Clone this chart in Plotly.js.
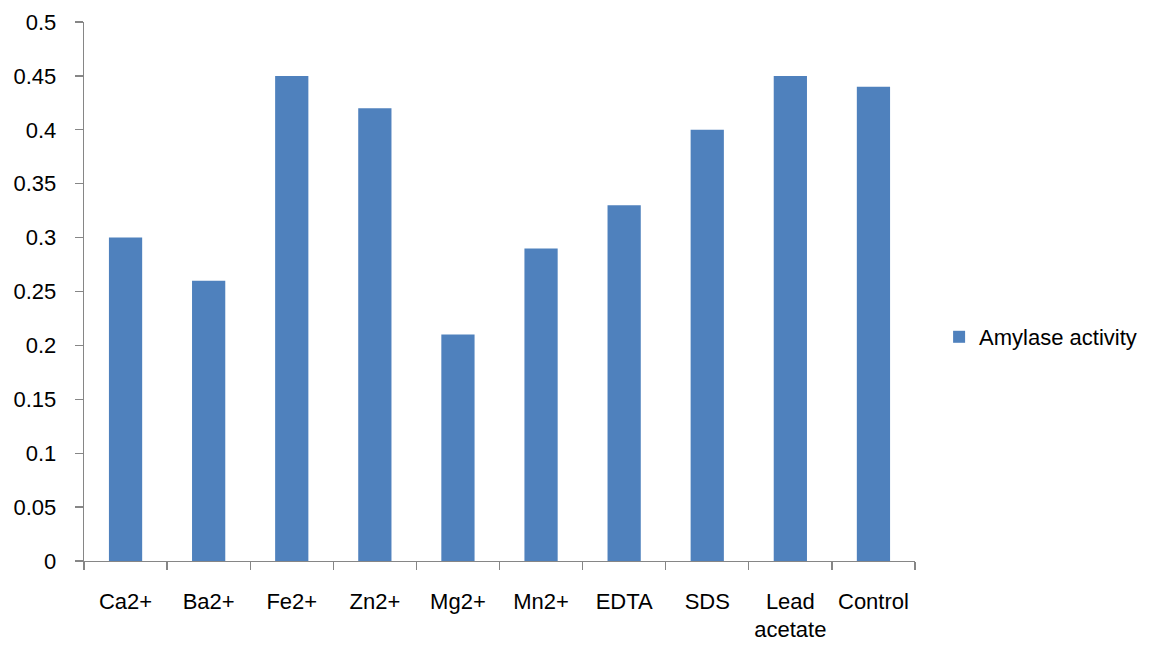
<!DOCTYPE html>
<html>
<head>
<meta charset="utf-8">
<script src="https://cdn.plot.ly/plotly-3.0.1.min.js"></script>
<style>html,body{margin:0;padding:0;background:#fff;}#chart{width:1159px;height:652px;}</style>
</head>
<body>
<div id="chart"></div>
<script>
const categories = ["Ca2+", "Ba2+", "Fe2+", "Zn2+", "Mg2+", "Mn2+", "EDTA", "SDS", "Lead<br>acetate", "Control"];
const amylaseActivity = [0.30, 0.26, 0.45, 0.42, 0.21, 0.29, 0.33, 0.40, 0.45, 0.44];
const seriesName = "Amylase activity";
const yTickVals = [0, 0.05, 0.1, 0.15, 0.2, 0.25, 0.3, 0.35, 0.4, 0.45, 0.5];

const trace = {
  type: "bar",
  x: categories,
  y: amylaseActivity,
  name: seriesName,
  marker: {color: "#4F81BD"},
  showlegend: true,
  hoverinfo: "none"
};

const fontFam = "Liberation Sans, Arial, sans-serif";
const fs = 22;
const layout = {
  width: 1159, height: 652,
  margin: {l: 84, r: 244, t: 22, b: 91},
  paper_bgcolor: "#fff", plot_bgcolor: "#fff",
  bargap: 0.6,
  font: {family: fontFam, size: fs, color: "#000"},
  xaxis: {
    type: "category",
    tickangle: 0,
    showline: true, linecolor: "#868686", linewidth: 1.3,
    ticks: "outside", tickson: "boundaries", ticklen: 8, tickcolor: "#868686", tickwidth: 1.3,
    showgrid: false, zeroline: false,
    ticklabelstandoff: 20,
    tickfont: {family: fontFam, size: fs, color: "#000"}
  },
  yaxis: {
    range: [0, 0.5],
    tickvals: yTickVals,
    showline: true, linecolor: "#868686", linewidth: 1.3,
    ticks: "outside", ticklen: 8, tickcolor: "#868686", tickwidth: 1.3,
    showgrid: false, zeroline: false,
    ticklabelstandoff: 14,
    tickfont: {family: fontFam, size: fs, color: "#000"}
  },
  legend: {
    x: 1.029, xanchor: "left", y: 0.4156, yanchor: "middle",
    font: {family: fontFam, size: fs, color: "#000"},
    bgcolor: "rgba(0,0,0,0)"
  }
};

Plotly.newPlot("chart", [trace], layout, {displayModeBar: false, staticPlot: true});
</script>
</body>
</html>
